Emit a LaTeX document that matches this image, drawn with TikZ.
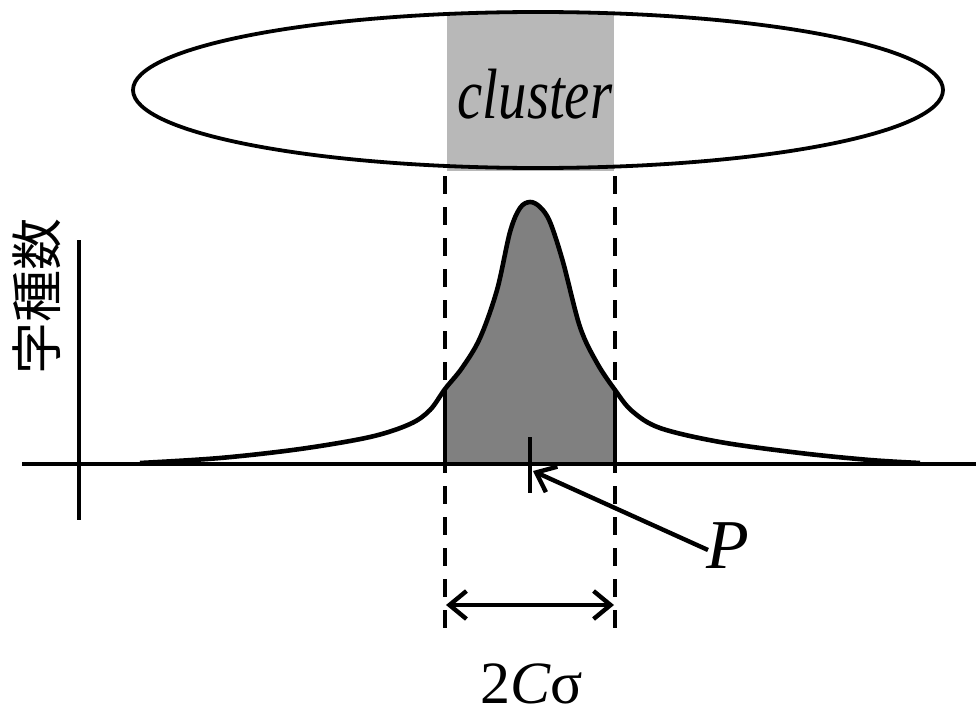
\documentclass[tikz,border=0pt]{standalone}
\usepackage{fontspec}
\setmainfont{Liberation Serif}[ItalicFont=Liberation Serif Italic]
\newfontfamily\serit{Liberation Serif Italic}
\newfontfamily\cjk{Noto Sans CJK JP}
\usetikzlibrary{arrows.meta,shapes.geometric}
\tikzset{
  thickline/.style={line width=4.6pt},
  dashline/.style={line width=4.4pt, dash pattern=on 18pt off 13pt},
  barbtip/.tip={Straight Barb[length=17pt,width=28pt]},
}
\begin{document}
\begin{tikzpicture}[x=1pt,y=-1pt,line join=round]
\useasboundingbox (0,0) rectangle (976,717);
% band in the ellipse
\fill[black!28] (447,14) rectangle (614,171);
\node[draw, line width=3.8pt, ellipse, minimum width=810pt, minimum height=156pt, inner sep=0pt] (ell) at (538,90) {};
\node[font=\serit\fontsize{66}{66}\selectfont, xscale=0.86, yscale=1.08] (clu) at (535,94) {cluster};
% curve fill
\begin{scope}
\clip (445,150) rectangle (615,464);
\fill[black!50] plot[smooth, tension=0.55] coordinates {(140,463) (220,458) (300,449) (370,437) (410,424) (430,410) (445,389) (462,368) (480,338) (497,290) (510,232) (520,208) (530,202) (540,207) (550,222) (563,262) (580,327) (597,363) (615,390) (632,411) (660,428) (720,442) (800,453) (870,460) (920,463)} -- cycle;
\end{scope}
% axes
\coordinate (xl) at (22,464);
\coordinate (xr) at (976,464);
\coordinate (yt) at (79,240);
\coordinate (yb) at (79,520);
\draw[line width=3.8pt] (xl) -- (xr);
\draw[line width=3.8pt] (yt) -- (yb);
\node[font=\cjk\fontsize{52}{52}\selectfont, rotate=90] (ylab) at (37,296) {字種数};
% curve
\draw[thickline] plot[smooth, tension=0.55] coordinates {(140,463) (220,458) (300,449) (370,437) (410,424) (430,410) (445,389) (462,368) (480,338) (497,290) (510,232) (520,208) (530,202) (540,207) (550,222) (563,262) (580,327) (597,363) (615,390) (632,411) (660,428) (720,442) (800,453) (870,460) (920,463)};
% dashed lines
\coordinate (dlt) at (445,176);
\coordinate (dlb) at (445,636);
\coordinate (drt) at (615,176);
\coordinate (drb) at (615,636);
\draw[dashline] (dlt) -- (dlb);
\draw[dashline] (drt) -- (drb);
\coordinate (sl1) at (445,388);
\coordinate (sl2) at (445,464);
\coordinate (sr1) at (615,390);
\coordinate (sr2) at (615,464);
\draw[thickline] (sl1) -- (sl2);
\draw[thickline] (sr1) -- (sr2);
% tick P
\coordinate (tt) at (530,437);
\coordinate (tb) at (530,493);
\draw[line width=3.8pt] (tt) -- (tb);
\node[font=\serit\fontsize{70}{70}\selectfont] (P) at (728,546) {P};
\coordinate (ptip) at (533,471);
\coordinate (pstart) at (708,550);
\draw[line width=4.4pt, -barbtip] (pstart) -- (ptip);
% double arrow
\coordinate (al) at (446,605);
\coordinate (ar) at (614,605);
\draw[line width=4.4pt, barbtip-barbtip] (al) -- (ar);
\node[font=\fontsize{60}{60}\selectfont, inner sep=0pt, anchor=base] (sig) at (532,703) {2{\serit C}σ};
\end{tikzpicture}
\end{document}
